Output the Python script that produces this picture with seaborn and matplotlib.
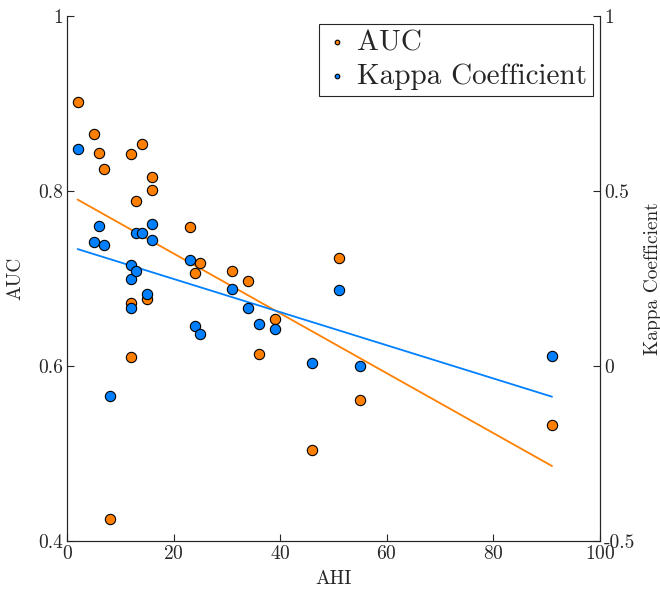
import numpy as np
import pandas as pd
import matplotlib
matplotlib.use("Agg")
import matplotlib.pyplot as plt
import seaborn as sns
from matplotlib.ticker import FixedLocator, FuncFormatter

# AUC per subject (left axis)
auc_ahi = [2, 5, 6, 7, 8, 12, 12, 12, 13, 14, 15, 16, 16,
           23, 24, 25, 31, 34, 36, 39, 46, 51, 55, 91]
auc_vals = [0.902, 0.865, 0.843, 0.825, 0.425, 0.842, 0.672, 0.610, 0.789, 0.854, 0.677, 0.816, 0.801,
            0.759, 0.706, 0.718, 0.709, 0.697, 0.614, 0.654, 0.504, 0.723, 0.561, 0.533]

# Kappa per subject (right axis)
kappa_ahi = [2, 5, 6, 7, 8, 12, 12, 12, 13, 13, 14, 15, 16, 16,
             23, 24, 25, 31, 34, 36, 39, 46, 51, 55, 91]
kappa_vals = [0.620, 0.354, 0.400, 0.346, -0.086, 0.289, 0.249, 0.166, 0.380, 0.271, 0.380, 0.206, 0.406, 0.360,
              0.303, 0.114, 0.091, 0.220, 0.166, 0.120, 0.106, 0.009, 0.217, 0.000, 0.029]

ORANGE = "#ff8000"
BLUE = "#0080ff"

sns.set_style("ticks")
plt.rcParams.update({
    "font.family": "cmr10",
    "mathtext.fontset": "cm",
    "axes.unicode_minus": False,
    "axes.formatter.use_mathtext": True,
    "axes.edgecolor": "#262626",
    "xtick.color": "#262626",
    "ytick.color": "#262626",
    "text.color": "#262626",
    "axes.labelcolor": "#262626",
})

auc_df = pd.DataFrame({"AHI": auc_ahi, "AUC": auc_vals})
kappa_df = pd.DataFrame({"AHI": kappa_ahi, "Kappa": kappa_vals})

fig = plt.figure(figsize=(6.6, 5.92), dpi=100)
ax = fig.add_axes([67 / 660, 51 / 592, 533 / 660, 525 / 592])
ax2 = ax.twinx()

sns.regplot(data=auc_df, x="AHI", y="AUC", ax=ax, scatter=False, ci=None,
            color=ORANGE, line_kws={"lw": 1.3})
sns.scatterplot(data=auc_df, x="AHI", y="AUC", ax=ax, color=ORANGE, s=55,
                edgecolor="black", linewidth=0.8, zorder=3, label="AUC", legend=False)

sns.regplot(data=kappa_df, x="AHI", y="Kappa", ax=ax2, scatter=False, ci=None,
            color=BLUE, line_kws={"lw": 1.3})
sns.scatterplot(data=kappa_df, x="AHI", y="Kappa", ax=ax2, color=BLUE, s=55,
                edgecolor="black", linewidth=0.8, zorder=3, label="Kappa Coefficient", legend=False)

ax.set_xlim(0, 100)
ax.set_ylim(0.4, 1)
ax2.set_ylim(-0.5, 1)
ax.xaxis.set_major_locator(FixedLocator([0, 20, 40, 60, 80, 100]))
ax.yaxis.set_major_locator(FixedLocator([0.4, 0.6, 0.8, 1.0]))
ax2.yaxis.set_major_locator(FixedLocator([-0.5, 0, 0.5, 1.0]))
fmt = FuncFormatter(lambda v, p: "%g" % round(v, 2))
ax.yaxis.set_major_formatter(fmt)
ax2.yaxis.set_major_formatter(fmt)

for a in (ax, ax2):
    a.spines["top"].set_visible(False)
    a.tick_params(direction="in", length=5, width=0.8, labelsize=14, pad=3)
    for s in a.spines.values():
        s.set_linewidth(0.8)

ax.set_xlabel("AHI", fontsize=14, labelpad=5)
ax.set_ylabel("AUC", fontsize=14, labelpad=10)
ax2.set_ylabel("Kappa Coefficient", fontsize=14, labelpad=6)

h1, l1 = ax.get_legend_handles_labels()
h2, l2 = ax2.get_legend_handles_labels()
leg = ax2.legend(h1 + h2, l1 + l2, loc="upper right", fontsize=21, markerscale=0.45,
                 handletextpad=0.3, handlelength=0.8, borderpad=0.2, labelspacing=0.25,
                 borderaxespad=0, frameon=True, fancybox=False, edgecolor="#262626",
                 framealpha=1, bbox_to_anchor=(0.987, 0.985))
leg.get_frame().set_linewidth(0.8)

fig.savefig("out.png", dpi=100)
